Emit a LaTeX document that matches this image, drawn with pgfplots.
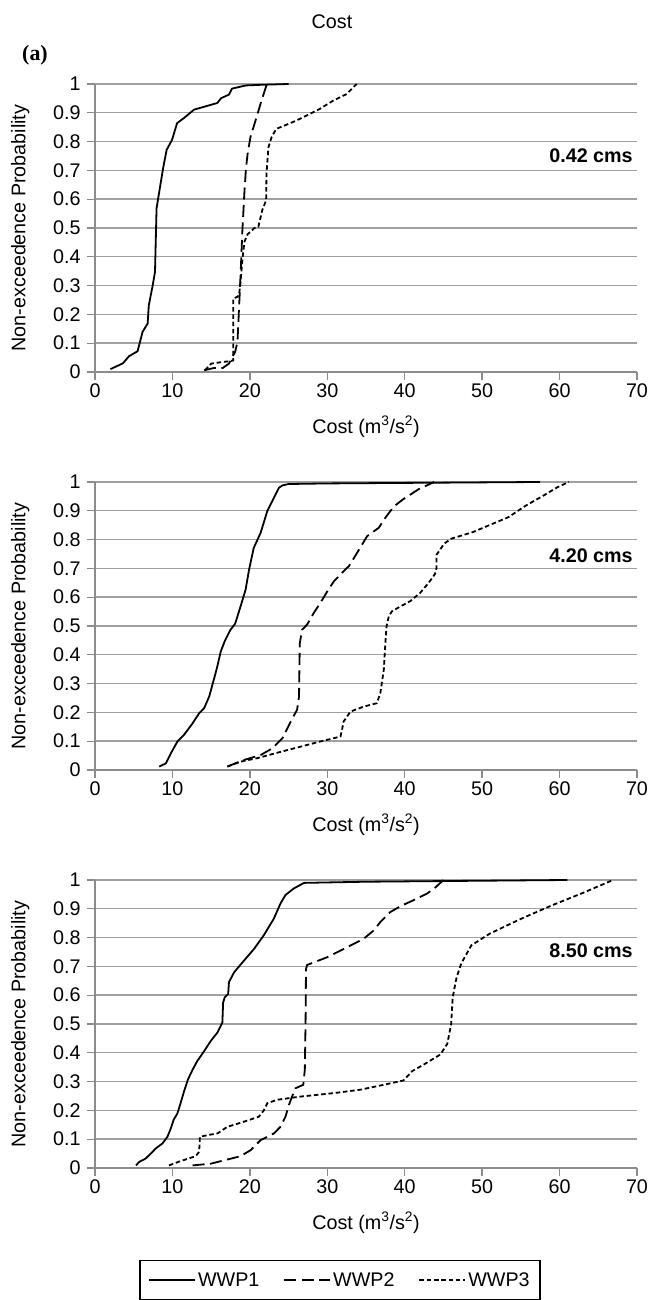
\documentclass[border=0pt]{standalone}
\usepackage{fontspec}
\setmainfont{Liberation Sans}
\newfontfamily\seriffont{Liberation Serif}
\usepackage{pgfplots}
\pgfplotsset{compat=1.18}

\definecolor{gridgray}{HTML}{A0A0A0}
\definecolor{axisgray}{HTML}{8C8C8C}
\newcommand\fs{\fontsize{19.8}{22}\selectfont}

\pgfplotsset{
  panel/.style={
    scale only axis, width=542bp, height=288bp,
    xmin=0, xmax=70, ymin=0, ymax=1,
    xtick={0,10,20,30,40,50,60,70},
    ytick={0,0.1,0.2,0.3,0.4,0.5,0.6,0.7,0.8,0.9,1},
    yticklabels={0,0.1,0.2,0.3,0.4,0.5,0.6,0.7,0.8,0.9,1},
    xticklabels={0,10,20,30,40,50,60,70},
    axis lines*=left,
    axis line style={axisgray, line width=1.4bp},
    tick style={axisgray, line width=1.3bp},
    tick align=outside, major tick length=8bp,
    ymajorgrids, grid style={gridgray, line width=1.4bp},
    ticklabel style={font=\fs},
    yticklabel style={xshift=-3bp},
    xlabel={Cost (m\textsuperscript{3}/s\textsuperscript{2})},
    ylabel={Non-exceedence Probability},
    xlabel style={font=\fs, at={(axis description cs:0.5,-0.19)}, anchor=center},
    ylabel style={font=\fs, at={(axis description cs:-0.138,0.5)}, anchor=center},
    clip=false,
  },
  s1/.style={black, line width=1.8bp, line join=round},
  s2/.style={black, line width=1.8bp, dash pattern=on 12bp off 5.5bp},
  s3/.style={black, line width=1.8bp, dash pattern=on 4.5bp off 2.8bp},
}

\begin{document}
\begin{tikzpicture}
\useasboundingbox (0bp,0bp) rectangle (651bp,1300bp);

\node[font=\fs] at (332bp,1278bp) {Cost};
\node[font=\seriffont\bfseries\fontsize{22}{24}\selectfont] at (35bp,1245bp) {(a)};

% 0.42 cms
\begin{axis}[panel, at={(95bp,928bp)}, anchor=south west]
\addplot[s1] coordinates {(2,0.01) (3.6,0.03) (4.4,0.055) (5.5,0.072) (6.15,0.14) (6.8,0.168) (6.95,0.232) (7.45,0.3) (7.75,0.348) (7.95,0.568) (8.3,0.626) (8.8,0.708) (9.25,0.771) (9.95,0.806) (10.6,0.864) (11.5,0.882) (12.8,0.911) (15.8,0.934) (16.3,0.951) (17.3,0.963) (17.7,0.984) (19.5,0.995) (21.3,0.997) (25,1)};
\addplot[s2] coordinates {(14.1,0.006) (15.4,0.014) (16.5,0.014) (17.3,0.029) (18.1,0.07) (18.4,0.104) (18.6,0.22) (18.8,0.336) (19.05,0.5) (19.3,0.626) (19.5,0.708) (19.75,0.766) (20.1,0.818) (20.7,0.87) (21.5,0.942) (22.2,1)};
\addplot[s3] coordinates {(14.2,0.006) (15,0.029) (16.5,0.035) (17.3,0.037) (17.85,0.04) (17.85,0.255) (18.4,0.261) (18.6,0.267) (18.8,0.313) (19.05,0.394) (19.3,0.452) (19.7,0.478) (20.6,0.5) (21.1,0.504) (21.6,0.562) (22.1,0.596) (22.15,0.689) (22.4,0.78) (22.8,0.815) (23.4,0.844) (24.5,0.856) (26,0.873) (27.3,0.89) (29,0.913) (30.75,0.942) (32.5,0.965) (33.8,1)};
\node[anchor=east, font=\bfseries\fs] at (axis cs:69.9,0.75) {0.42 cms};
\end{axis}

% 4.20 cms
\begin{axis}[panel, at={(95bp,530bp)}, anchor=south west]
\addplot[s1] coordinates {(8.3,0.012) (9.15,0.023) (9.8,0.058) (10.65,0.099) (11.5,0.122) (12.6,0.162) (13.45,0.197) (14.1,0.215) (14.75,0.255) (15.4,0.319) (15.8,0.36) (16.25,0.412) (16.75,0.447) (17.5,0.487) (18.1,0.508) (18.8,0.568) (19.45,0.626) (19.9,0.696) (20.5,0.771) (21.4,0.824) (22.25,0.899) (23.1,0.945) (23.75,0.98) (24.2,0.988) (25,0.993) (30,0.995) (57.5,1)};
\addplot[s2] coordinates {(17.1,0.012) (19.25,0.035) (21.4,0.052) (22.9,0.075) (24.2,0.11) (24.85,0.145) (25.5,0.18) (26.1,0.209) (26.35,0.255) (26.4,0.348) (26.45,0.44) (26.75,0.487) (27.4,0.505) (28.25,0.545) (29.1,0.58) (30,0.62) (30.85,0.655) (32.1,0.69) (32.8,0.708) (33.85,0.754) (35.15,0.812) (36.65,0.841) (37.5,0.876) (38.6,0.915) (39.8,0.94) (41.8,0.975) (43.8,1)};
\addplot[s3] coordinates {(17.1,0.012) (18.8,0.029) (20.95,0.041) (23.55,0.06) (26.55,0.081) (29.1,0.099) (31.7,0.116) (31.9,0.139) (32.1,0.168) (33,0.203) (34.7,0.22) (36.4,0.232) (36.85,0.267) (37.3,0.348) (37.5,0.44) (37.65,0.499) (37.95,0.534) (38.35,0.551) (39.45,0.568) (40.7,0.586) (42,0.615) (43.1,0.65) (43.9,0.68) (44.1,0.7) (44.1,0.747) (45.1,0.786) (46,0.803) (48.8,0.826) (53.4,0.878) (55.7,0.919) (58,0.954) (59.8,0.983) (61.2,1)};
\node[anchor=east, font=\bfseries\fs] at (axis cs:69.9,0.745) {4.20 cms};
\end{axis}

% 8.50 cms
\begin{axis}[panel, at={(95bp,132bp)}, anchor=south west,
    legend columns=3,
    legend style={at={(axis description cs:0.452,-0.319)}, anchor=north,
      draw=black, line width=1.6bp, font=\fs, inner xsep=8bp, inner ysep=10bp,
      /tikz/every even column/.append style={column sep=22bp}},
    legend image code/.code={\draw[#1] (0bp,0bp) -- (46bp,0bp);},
]
\addplot[s1] coordinates {(5.3,0.009) (5.7,0.021) (6.55,0.033) (7.2,0.05) (7.85,0.068) (8.7,0.085) (9.35,0.108) (9.8,0.138) (10.15,0.167) (10.65,0.19) (11.05,0.225) (11.5,0.266) (12,0.307) (12.6,0.341) (13.2,0.371) (14.1,0.406) (14.95,0.441) (15.8,0.47) (16.45,0.505) (16.55,0.575) (16.75,0.592) (17.2,0.604) (17.3,0.645) (17.95,0.679) (19.05,0.714) (20.55,0.761) (21.8,0.808) (23.1,0.866) (23.95,0.918) (24.6,0.948) (25.7,0.971) (27,0.99) (35,0.994) (61,1)};
\addlegendentry{WWP1}
\addplot[s2] coordinates {(12.6,0.009) (14.95,0.015) (18.8,0.041) (20.1,0.062) (21.4,0.097) (23.1,0.12) (23.95,0.143) (24.6,0.178) (25.05,0.219) (25.45,0.248) (25.9,0.277) (26.9,0.289) (27.1,0.341) (27.2,0.516) (27.25,0.691) (27.4,0.705) (30,0.732) (31.7,0.755) (33.4,0.778) (34.7,0.796) (36,0.825) (36.85,0.854) (38.15,0.889) (39.45,0.909) (41.15,0.93) (42.9,0.953) (44,0.975) (45,1)};
\addlegendentry{WWP2}
\addplot[s3] coordinates {(9.55,0.009) (11.05,0.024) (13,0.041) (13.45,0.056) (13.55,0.108) (14.5,0.114) (15.8,0.12) (17.1,0.143) (18.8,0.157) (21.15,0.178) (21.8,0.2) (22.25,0.225) (23.55,0.237) (26.55,0.248) (30.85,0.26) (34.3,0.272) (37.3,0.289) (39.85,0.304) (40.95,0.336) (42.45,0.359) (44.6,0.394) (45.5,0.431) (46,0.5) (46.2,0.593) (46.7,0.662) (47.3,0.71) (48.6,0.773) (51,0.814) (55,0.865) (59.1,0.913) (63,0.955) (66.9,1)};
\addlegendentry{WWP3}
\node[anchor=east, font=\bfseries\fs] at (axis cs:69.9,0.753) {8.50 cms};
\end{axis}
\end{tikzpicture}
\end{document}
